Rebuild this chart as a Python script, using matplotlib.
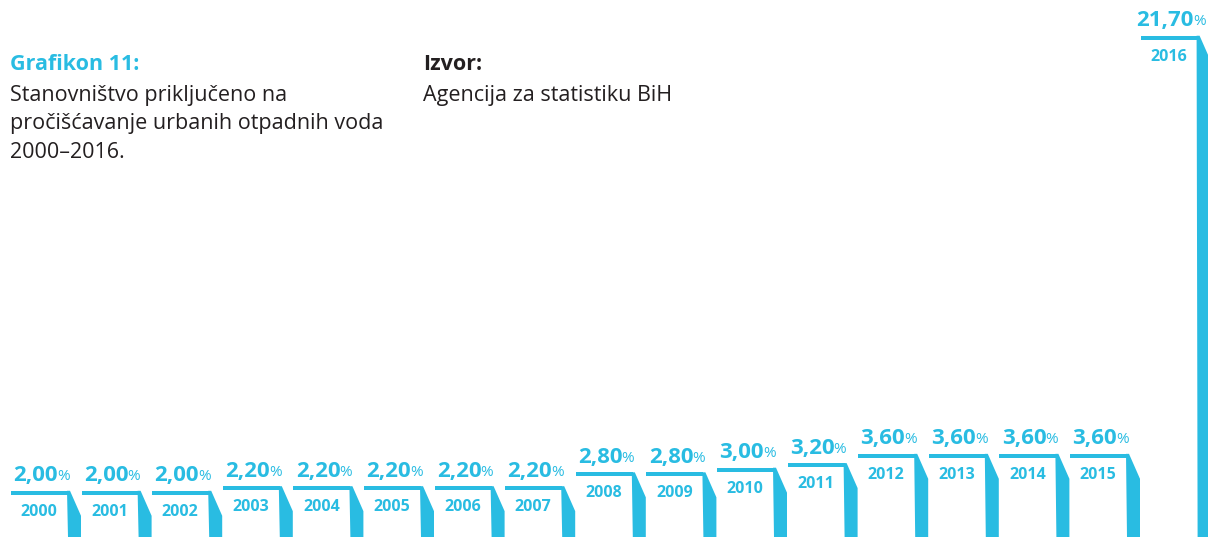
import matplotlib
matplotlib.use("Agg")
import matplotlib.pyplot as plt
from matplotlib.patches import Polygon, Rectangle

years = ["2000", "2001", "2002", "2003", "2004", "2005", "2006", "2007", "2008",
         "2009", "2010", "2011", "2012", "2013", "2014", "2015", "2016"]
values = [2.00, 2.00, 2.00, 2.20, 2.20, 2.20, 2.20, 2.20, 2.80,
          2.80, 3.00, 3.20, 3.60, 3.60, 3.60, 3.60, 21.70]
title_lines = ["Stanovništvo priključeno na",
               "pročišćavanje urbanih otpadnih voda",
               "2000–2016."]

CYAN = "#29bce2"
DARK = "#231f20"
plt.rcParams['font.family'] = ['Open Sans', 'DejaVu Sans']

W, H, DPI = 1208, 537, 100
PITCH = 70.6     # px per bar slot
UNIT = 23.1      # px per percent

fig = plt.figure(figsize=(W / DPI, H / DPI), dpi=DPI)
ax = fig.add_axes([0, 0, 1, 1])
ax.set_xlim(-11 / PITCH, (W - 11) / PITCH)
ax.set_ylim(0, H / UNIT)
ax.axis("off")

px = lambda p: p / PITCH   # horizontal pixel offset to data units
py = lambda p: p / UNIT    # vertical pixel offset to data units

for i, (yr, v) in enumerate(zip(years, values)):
    # top line
    ax.add_patch(Rectangle((i, v - py(4)), px(57), py(4), color=CYAN, lw=0))
    # slanted side
    side = [(i + px(56), v), (i + px(59), v), (i + px(70), v - py(25)),
            (i + px(70), 0), (i + px(57), 0)]
    ax.add_patch(Polygon(side, closed=True, color=CYAN, lw=0))
    # year label
    ax.text(i + px(28), v - py(21), yr, color=CYAN, fontsize=11.5,
            fontweight="bold", ha="center", va="center")

fig.canvas.draw()
r = fig.canvas.get_renderer()
for i, v in enumerate(values):
    num = ax.text(0, v + py(15), f"{v:.2f}".replace(".", ","), color=CYAN,
                  fontsize=16, fontweight="bold", ha="left", va="center")
    pct = ax.text(0, v + py(14), "%", color=CYAN, fontsize=11,
                  ha="left", va="center")
    wn = num.get_window_extent(r).width
    wp = pct.get_window_extent(r).width
    start = 11 + PITCH * i + 31 - (wn + wp) / 2
    num.set_x(px(start - 11))
    pct.set_x(px(start - 11 + wn - 1))

fig.text(10 / W, 1 - 65 / H, "Grafikon 11:", color=CYAN, fontsize=15.5,
         fontweight="bold", ha="left", va="center")
for k, line in enumerate(title_lines):
    fig.text(10 / W, 1 - (95 + 29 * k) / H, line, color=DARK, fontsize=15.5,
             ha="left", va="center")
fig.text(423 / W, 1 - 65 / H, "Izvor:", color=DARK, fontsize=15.5,
         fontweight="bold", ha="left", va="center")
fig.text(423 / W, 1 - 95 / H, "Agencija za statistiku BiH", color=DARK,
         fontsize=15.5, ha="left", va="center")

fig.savefig("out.png", dpi=DPI)
